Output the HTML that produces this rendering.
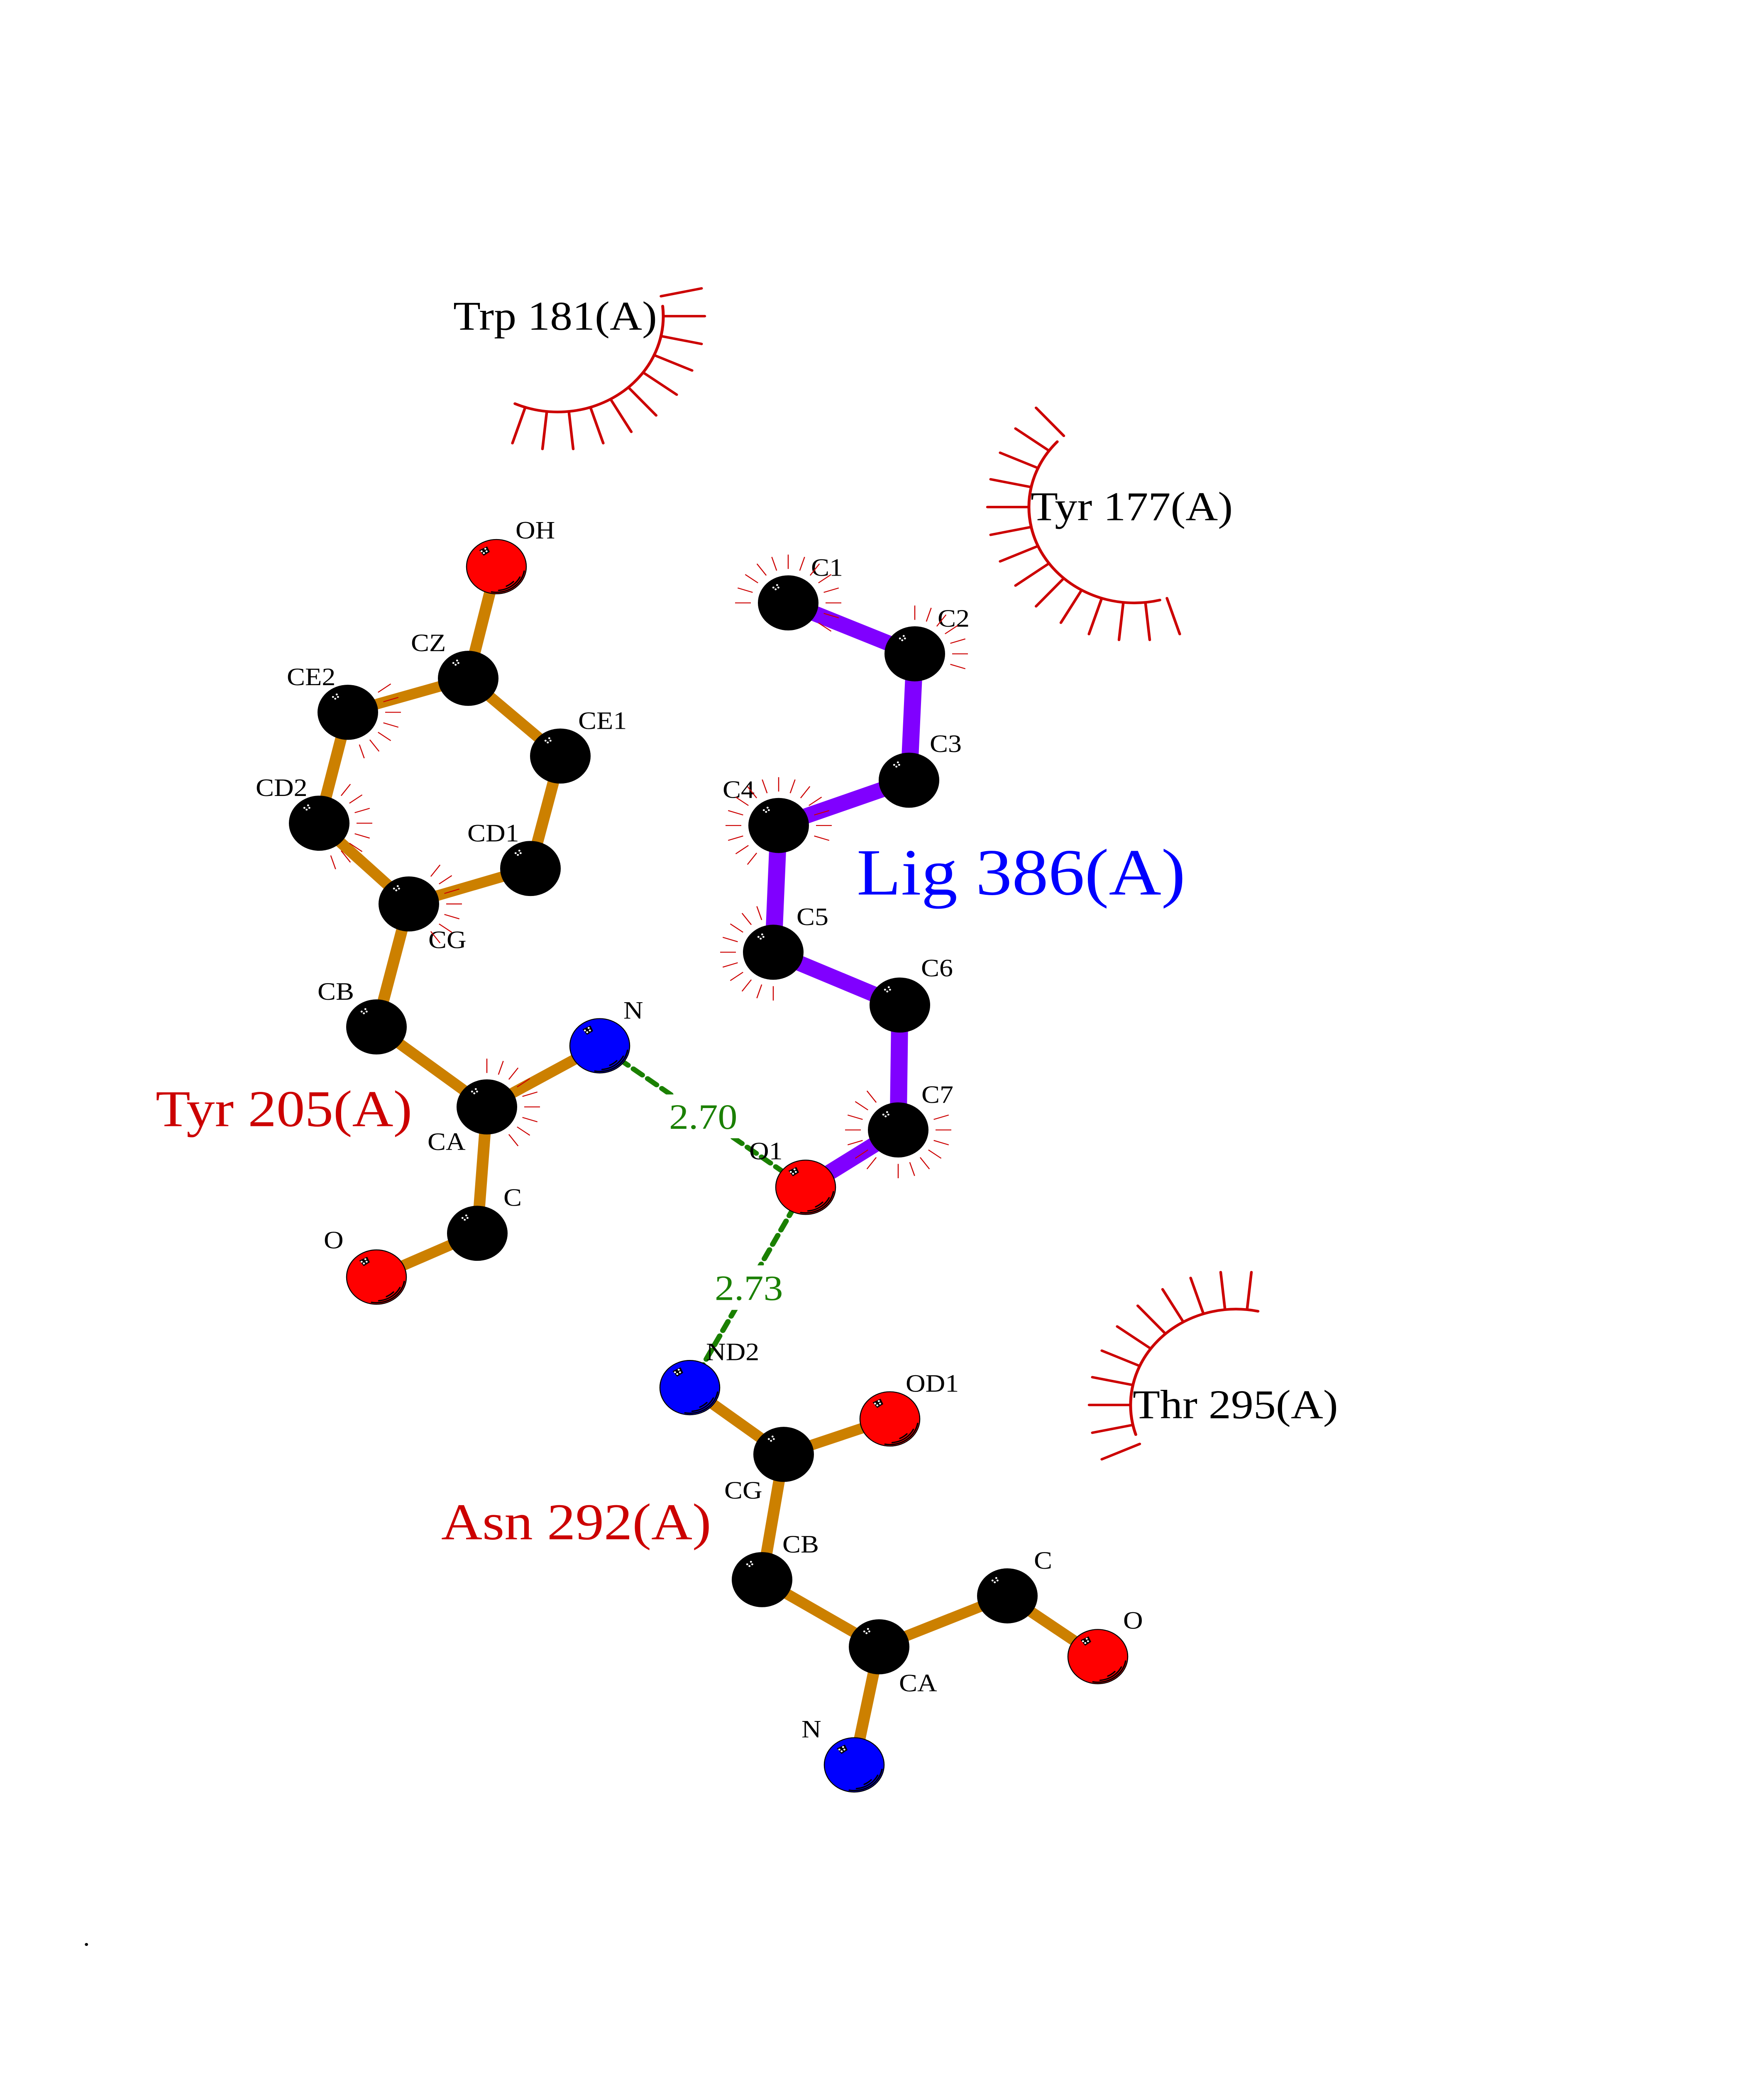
<!DOCTYPE html>
<html><head><meta charset="utf-8"><title>Ligand interaction diagram</title>
<style>html,body{margin:0;padding:0;background:#fff;width:100%;height:100%;overflow:hidden}svg{display:block;position:fixed;left:0;top:0;width:100vw;height:100vh}text{font-family:"Liberation Serif",serif}</style></head>
<body>
<svg xmlns="http://www.w3.org/2000/svg" viewBox="0 0 4250 5500" preserveAspectRatio="none">
<defs>
<g id="w"><g fill="#fff"><circle cx="-35.7" cy="-40.7" r="2.5"/><circle cx="-26.7" cy="-47.3" r="2.5"/><circle cx="-23.7" cy="-40.7" r="2.5"/><circle cx="-30.3" cy="-36" r="2.5"/></g></g>
<g id="a"><circle r="73" fill="#000"/><use href="#w"/></g>
<g id="s"><g fill="none" stroke="#000" stroke-width="3.5" stroke-linecap="round"><path d="M67 11.8A68 68 0 0 1-11.8 67"/><path d="M56.6 27.6A63 63 0 0 1 5.5 62.8"/><path d="M41 39.6A57 57 0 0 1 24.1 51.7"/></g><polygon points="-22.3,-53.6 -16,-39.3 -30.6,-29 -41.5,-43.7" fill="#000"/><use href="#w"/></g>
<g id="r"><circle r="72" fill="#f00" stroke="#000" stroke-width="2.5"/><use href="#s"/></g>
<g id="u"><circle r="72" fill="#00f" stroke="#000" stroke-width="2.5"/><use href="#s"/></g>
<line id="k" x1="90" y1="0" x2="128" y2="0" stroke="#cc0000" stroke-width="2.5"/>
<line id="b" x1="254" y1="0" x2="354" y2="0" stroke="#cc0000" stroke-width="6.5" stroke-linecap="round"/>
</defs>
<rect width="4250" height="5500" fill="#fff"/>

<!-- hydrogen bonds -->
<g stroke="#1a8000" stroke-width="13" stroke-linecap="round" fill="none" stroke-dasharray="27 16">
<line x1="1445" y1="2772" x2="1941" y2="3147" stroke-dashoffset="-15.5"/>
<line x1="1941" y1="3147" x2="1662" y2="3678" stroke-dashoffset="-15"/>
</g>
<rect x="1600" y="2901" width="190" height="116" fill="#fff"/>
<rect x="1710" y="3354" width="190" height="118" fill="#fff"/>
<text x="1612" y="2992" font-size="94" fill="#1a8000">2.70</text>
<text x="1722" y="3446" font-size="94" fill="#1a8000">2.73</text>

<!-- bonds -->
<g fill="none" stroke="#cc8000" stroke-width="28">
<path d="M1196 1502L1128 1798M838 1888L1128 1798L1350 2004L1278 2302L985 2396L769 2182L838 1888M985 2396L907 2722L1173 2934L1445 2772M1173 2934L1150 3269L907 3385"/>
<path d="M1662 3678L1888 3855L2144 3761M1888 3855L1836 4187L2118 4365L2427 4230L2645 4391M2118 4365L2058 4678"/>
</g>
<path d="M1899 1598L2204 1733L2190 2068L1876 2188L1863 2524L2168 2664L2164 2995L1941 3147" fill="none" stroke="#8000ff" stroke-width="41"/>

<!-- atoms -->
<use href="#r" x="1196" y="1502"/>
<use href="#a" x="1128" y="1798"/>
<use href="#a" x="838" y="1888"/>
<use href="#a" x="1350" y="2004"/>
<use href="#a" x="769" y="2182"/>
<use href="#a" x="1278" y="2302"/>
<use href="#a" x="985" y="2396"/>
<use href="#a" x="907" y="2722"/>
<use href="#a" x="1173" y="2934"/>
<use href="#u" x="1445" y="2772"/>
<use href="#a" x="1150" y="3269"/>
<use href="#r" x="907" y="3385"/>
<use href="#a" x="1899" y="1598"/>
<use href="#a" x="2204" y="1733"/>
<use href="#a" x="2190" y="2068"/>
<use href="#a" x="1876" y="2188"/>
<use href="#a" x="1863" y="2524"/>
<use href="#a" x="2168" y="2664"/>
<use href="#a" x="2164" y="2995"/>
<use href="#r" x="1941" y="3147"/>
<use href="#u" x="1662" y="3678"/>
<use href="#r" x="2144" y="3761"/>
<use href="#a" x="1888" y="3855"/>
<use href="#a" x="1836" y="4187"/>
<use href="#a" x="2118" y="4365"/>
<use href="#a" x="2427" y="4230"/>
<use href="#r" x="2645" y="4391"/>
<use href="#u" x="2058" y="4678"/>

<!-- atom labels -->
<g font-size="66" fill="#000">
<text x="1242" y="1427">OH</text>
<text x="990" y="1726">CZ</text>
<text x="691" y="1816">CE2</text>
<text x="1393" y="1932">CE1</text>
<text x="616" y="2110">CD2</text>
<text x="1126" y="2230">CD1</text>
<text x="1032" y="2513">CG</text>
<text x="765" y="2650">CB</text>
<text x="1502" y="2700">N</text>
<text x="1030" y="3048">CA</text>
<text x="1213" y="3196">C</text>
<text x="780" y="3309">O</text>
<text x="1954" y="1526">C1</text>
<text x="2259" y="1661">C2</text>
<text x="2240" y="1993">C3</text>
<text x="1741" y="2115">C4</text>
<text x="1919" y="2452">C5</text>
<text x="2219" y="2588">C6</text>
<text x="2220" y="2923">C7</text>
<text x="1805" y="3073">O1</text>
<text x="1701" y="3605">ND2</text>
<text x="2182" y="3689">OD1</text>
<text x="1745" y="3972">CG</text>
<text x="1885" y="4115">CB</text>
<text x="2491" y="4158">C</text>
<text x="2166" y="4483">CA</text>
<text x="2706" y="4317">O</text>
<text x="1931" y="4605">N</text>
</g>

<!-- small contact ticks -->
<g transform="translate(1899 1598)"><use href="#k" transform="rotate(-180)"/><use href="#k" transform="rotate(-162)"/><use href="#k" transform="rotate(-144)"/><use href="#k" transform="rotate(-126)"/><use href="#k" transform="rotate(-108)"/><use href="#k" transform="rotate(-90)"/><use href="#k" transform="rotate(-72)"/><use href="#k" transform="rotate(-54)"/><use href="#k" transform="rotate(-36)"/><use href="#k" transform="rotate(-18)"/><use href="#k"/><use href="#k" transform="rotate(18)"/><use href="#k" transform="rotate(36)"/></g>
<g transform="translate(2204 1733)"><use href="#k" transform="rotate(-90)"/><use href="#k" transform="rotate(-72)"/><use href="#k" transform="rotate(-54)"/><use href="#k" transform="rotate(-36)"/><use href="#k" transform="rotate(-18)"/><use href="#k"/><use href="#k" transform="rotate(18)"/></g>
<g transform="translate(1876 2188)"><use href="#k" transform="rotate(126)"/><use href="#k" transform="rotate(144)"/><use href="#k" transform="rotate(162)"/><use href="#k" transform="rotate(180)"/><use href="#k" transform="rotate(198)"/><use href="#k" transform="rotate(216)"/><use href="#k" transform="rotate(234)"/><use href="#k" transform="rotate(252)"/><use href="#k" transform="rotate(270)"/><use href="#k" transform="rotate(288)"/><use href="#k" transform="rotate(306)"/><use href="#k" transform="rotate(324)"/><use href="#k" transform="rotate(342)"/><use href="#k"/><use href="#k" transform="rotate(18)"/></g>
<g transform="translate(1863 2524)"><use href="#k" transform="rotate(90)"/><use href="#k" transform="rotate(108)"/><use href="#k" transform="rotate(126)"/><use href="#k" transform="rotate(144)"/><use href="#k" transform="rotate(162)"/><use href="#k" transform="rotate(180)"/><use href="#k" transform="rotate(198)"/><use href="#k" transform="rotate(216)"/><use href="#k" transform="rotate(234)"/><use href="#k" transform="rotate(252)"/></g>
<g transform="translate(2164 2995)"><use href="#k" transform="rotate(-18)"/><use href="#k"/><use href="#k" transform="rotate(18)"/><use href="#k" transform="rotate(36)"/><use href="#k" transform="rotate(54)"/><use href="#k" transform="rotate(72)"/><use href="#k" transform="rotate(90)"/><use href="#k" transform="rotate(126)"/><use href="#k" transform="rotate(144)"/><use href="#k" transform="rotate(162)"/><use href="#k" transform="rotate(180)"/><use href="#k" transform="rotate(198)"/><use href="#k" transform="rotate(216)"/><use href="#k" transform="rotate(234)"/></g>
<g transform="translate(838 1888)"><use href="#k" transform="rotate(-36)"/><use href="#k" transform="rotate(-18)"/><use href="#k"/><use href="#k" transform="rotate(18)"/><use href="#k" transform="rotate(36)"/><use href="#k" transform="rotate(54)"/><use href="#k" transform="rotate(72)"/></g>
<g transform="translate(769 2182)"><use href="#k" transform="rotate(-54)"/><use href="#k" transform="rotate(-36)"/><use href="#k" transform="rotate(-18)"/><use href="#k"/><use href="#k" transform="rotate(18)"/><use href="#k" transform="rotate(36)"/><use href="#k" transform="rotate(54)"/><use href="#k" transform="rotate(72)"/></g>
<g transform="translate(985 2396)"><use href="#k" transform="rotate(-54)"/><use href="#k" transform="rotate(-36)"/><use href="#k" transform="rotate(-18)"/><use href="#k"/><use href="#k" transform="rotate(18)"/><use href="#k" transform="rotate(36)"/><use href="#k" transform="rotate(54)"/></g>
<g transform="translate(1173 2934)"><use href="#k" transform="rotate(-90)"/><use href="#k" transform="rotate(-72)"/><use href="#k" transform="rotate(-54)"/><use href="#k" transform="rotate(-36)"/><use href="#k" transform="rotate(-18)"/><use href="#k"/><use href="#k" transform="rotate(18)"/><use href="#k" transform="rotate(36)"/><use href="#k" transform="rotate(54)"/></g>

<!-- hydrophobic contact arcs -->
<g transform="translate(1344 838)"><use href="#b" transform="rotate(-12)"/><use href="#b"/><use href="#b" transform="rotate(12)"/><use href="#b" transform="rotate(24)"/><use href="#b" transform="rotate(36)"/><use href="#b" transform="rotate(48)"/><use href="#b" transform="rotate(60)"/><use href="#b" transform="rotate(72)"/><use href="#b" transform="rotate(84)"/><use href="#b" transform="rotate(96)"/><use href="#b" transform="rotate(108)"/></g>
<g transform="translate(2733 1344)"><use href="#b" transform="rotate(72)"/><use href="#b" transform="rotate(84)"/><use href="#b" transform="rotate(96)"/><use href="#b" transform="rotate(108)"/><use href="#b" transform="rotate(120)"/><use href="#b" transform="rotate(132)"/><use href="#b" transform="rotate(144)"/><use href="#b" transform="rotate(156)"/><use href="#b" transform="rotate(168)"/><use href="#b" transform="rotate(180)"/><use href="#b" transform="rotate(192)"/><use href="#b" transform="rotate(204)"/><use href="#b" transform="rotate(216)"/><use href="#b" transform="rotate(228)"/></g>
<g transform="translate(2978 3724)"><use href="#b" transform="rotate(156)"/><use href="#b" transform="rotate(168)"/><use href="#b" transform="rotate(180)"/><use href="#b" transform="rotate(192)"/><use href="#b" transform="rotate(204)"/><use href="#b" transform="rotate(216)"/><use href="#b" transform="rotate(228)"/><use href="#b" transform="rotate(240)"/><use href="#b" transform="rotate(252)"/><use href="#b" transform="rotate(264)"/><use href="#b" transform="rotate(276)"/></g>
<g fill="none" stroke="#cc0000" stroke-width="7" stroke-linecap="round">
<path d="M1596.6 811.5A254 254 0 0 1 1240.7 1070"/>
<path d="M2794.4 1590.5A254 254 0 0 1 2547.2 1170.8"/>
<path d="M2736.4 3802.5A254 254 0 0 1 3030.8 3475.6"/>
</g>

<!-- residue labels -->
<g font-size="108" fill="#000">
<text x="1092" y="874">Trp 181(A)</text>
<text x="2483" y="1379">Tyr 177(A)</text>
<text x="2729" y="3759">Thr 295(A)</text>
</g>
<text x="2064" y="2371" font-size="175" fill="#0000ff">Lig 386(A)</text>
<g font-size="137" fill="#cc0000">
<text x="375" y="2985">Tyr 205(A)</text>
<text x="1063" y="4080">Asn 292(A)</text>
</g>
<text x="200" y="5157" font-size="66" fill="#000">.</text>
</svg>
</body></html>
